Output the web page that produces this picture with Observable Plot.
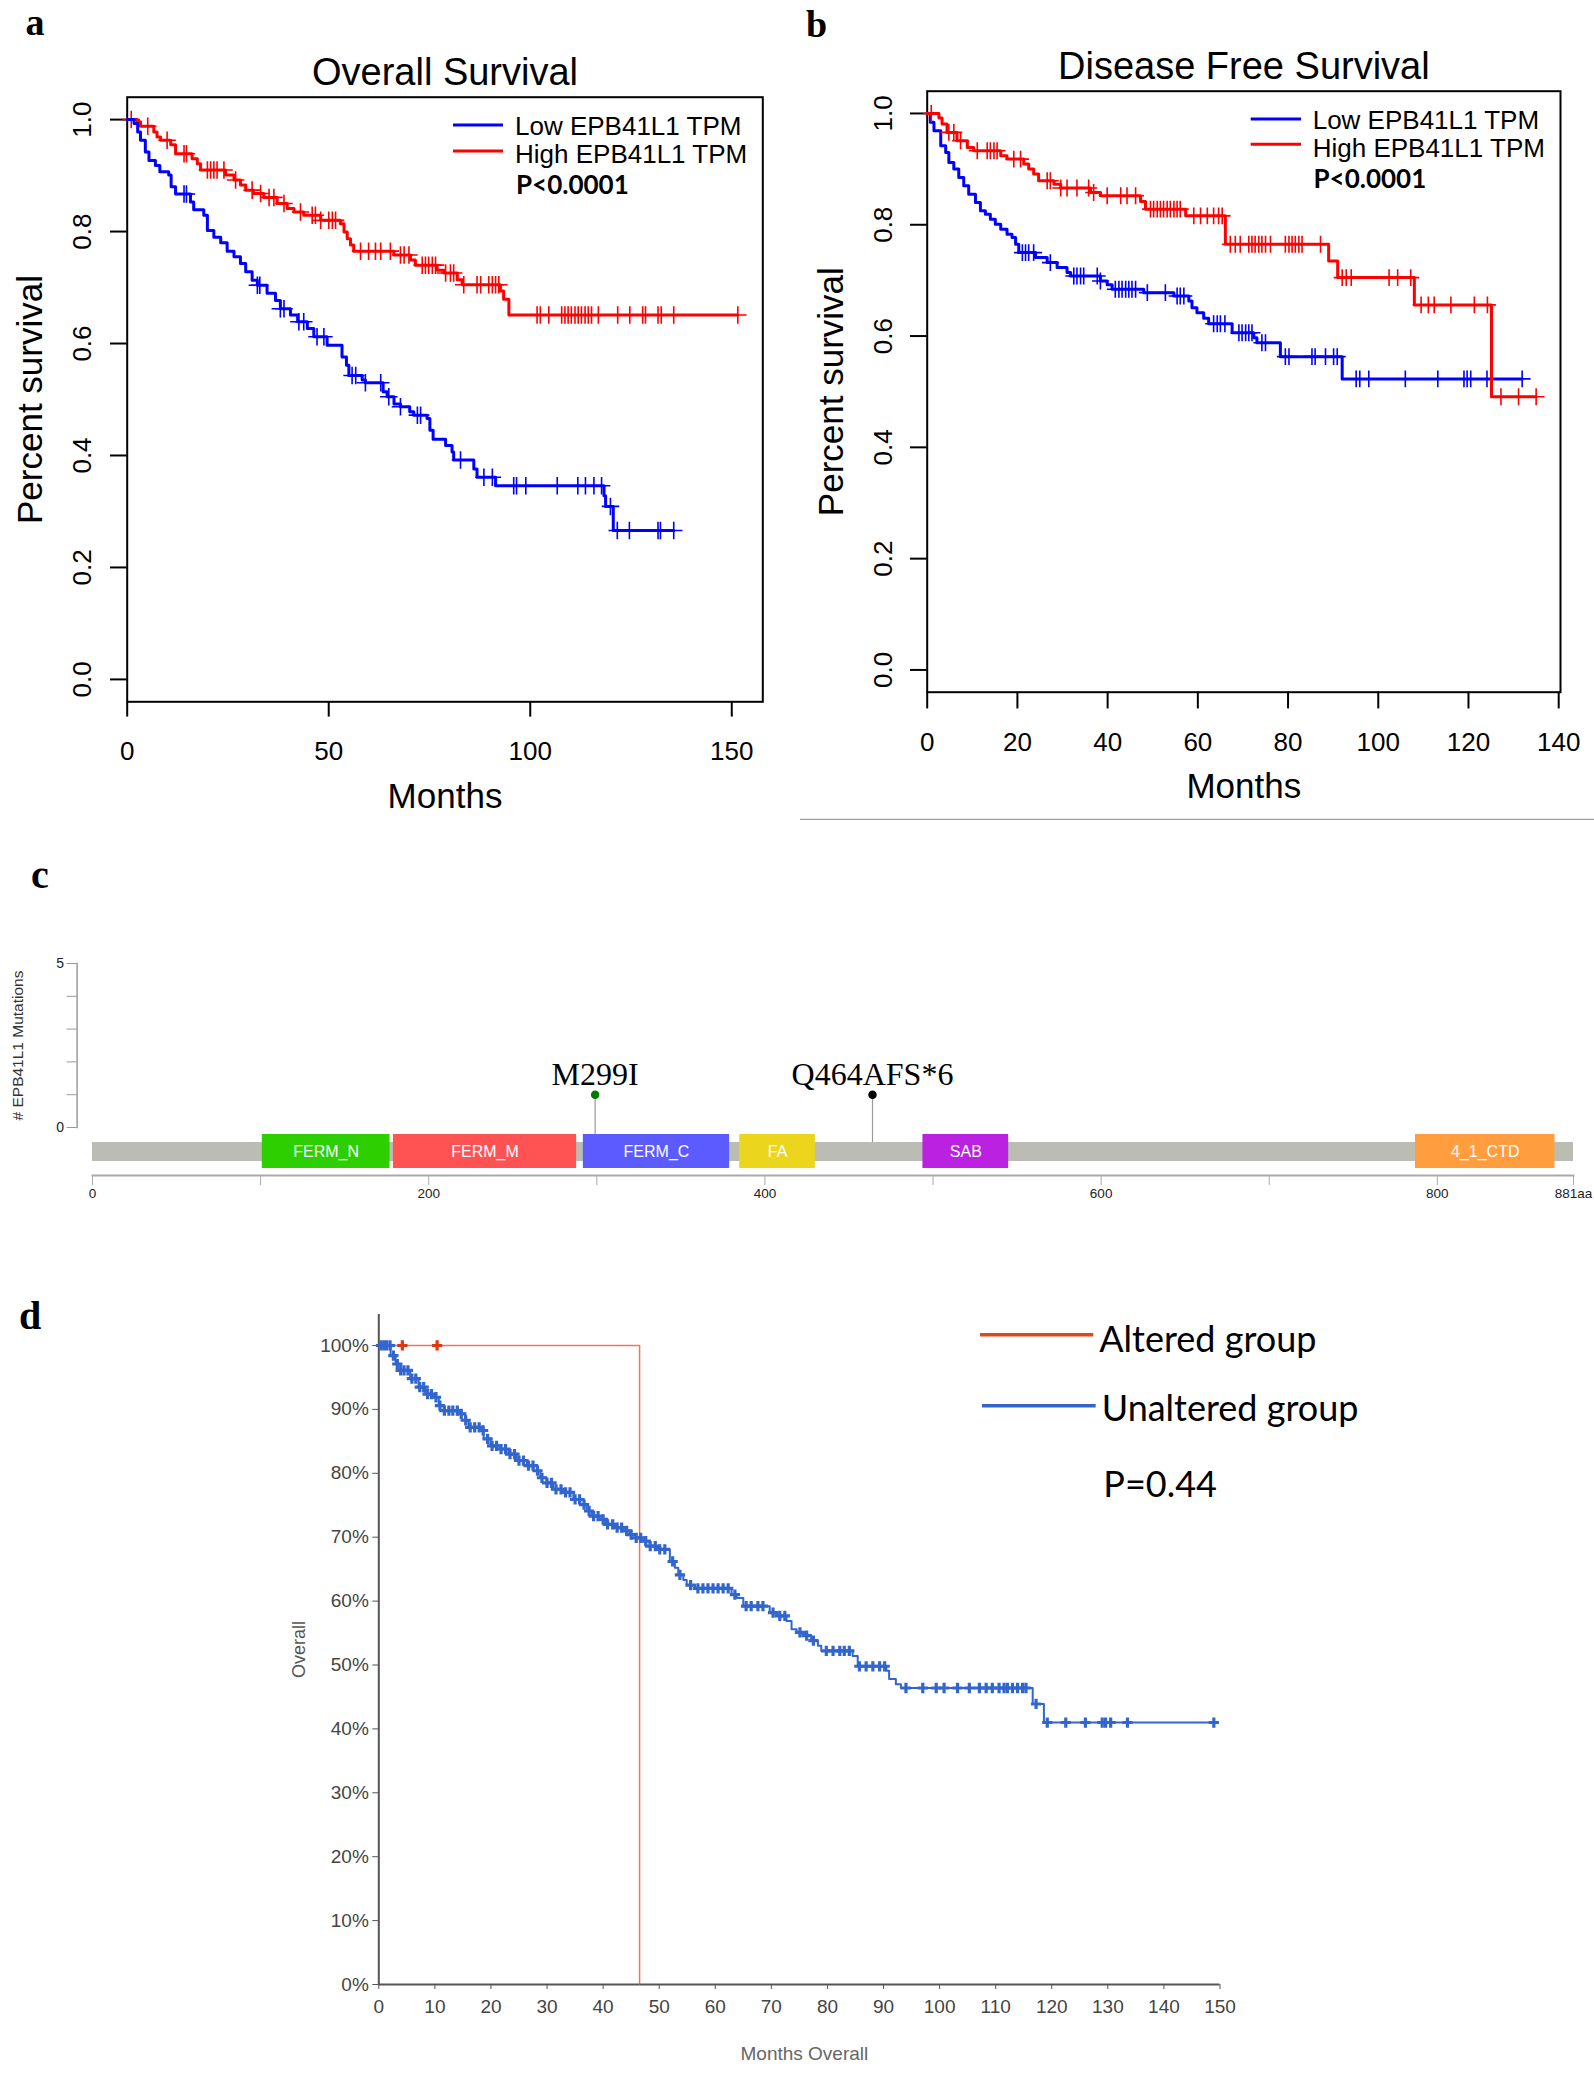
<!DOCTYPE html>
<html><head><meta charset="utf-8">
<script src="https://cdn.jsdelivr.net/npm/d3@7"></script>
<script src="https://cdn.jsdelivr.net/npm/@observablehq/plot@0.6"></script>
<style>
body{margin:0;background:#fff;}
#page{position:relative;width:1594px;height:2078px;overflow:hidden;background:#fff;}
</style></head><body><div id="page"></div>
<script>
// ---------------- DATA ----------------
// Panel a: Overall Survival (months, survival fraction) step points
const osLow = [[0,1],[1.7,.993],[2.6,.978],[3.3,.963],[4.5,.942],[5.4,.927],[7.0,.918],[8.1,.907],[10.3,.901],[10.9,.880],[12.0,.867],[15.7,.853],[16.5,.839],[19.0,.829],[19.9,.802],[21.5,.790],[23.2,.780],[24.8,.765],[26.5,.755],[28.1,.743],[29.4,.728],[31.0,.713],[32.3,.704],[34.7,.690],[36.8,.677],[38.0,.662],[40.5,.651],[42.3,.639],[44.7,.627],[46.3,.612],[49.6,.597],[53.3,.576],[54.4,.561],[55.0,.543],[58.3,.535],[59.1,.530],[63.5,.514],[64.5,.505],[66.2,.492],[67.8,.487],[70.1,.478],[71.1,.472],[74.4,.466],[75.1,.445],[75.9,.429],[79.0,.418],[80.6,.406],[81.0,.392],[86.0,.376],[86.8,.361],[91.4,.346],[118.3,.328],[118.7,.309],[120.6,.266],[135.6,.266]];
const osLowCensor = [14.1,14.7,32.3,32.9,38.0,38.9,42.6,43.8,47.1,48.8,55.8,56.7,59.1,62.9,64.9,67.8,72.0,72.8,82.7,88.5,90.6,95.9,96.6,98.9,106.7,111.8,113.7,115.8,117.7,119.9,121.6,124.6,131.7,132.3,135.6];
const osHigh = [[0,1],[2.5,.996],[3.3,.988],[6.6,.978],[7.4,.969],[8.3,.963],[10.8,.955],[12.0,.939],[16.1,.930],[17.4,.921],[18.2,.910],[24.4,.901],[26.5,.892],[28.1,.883],[29.4,.874],[31.3,.868],[33.9,.861],[37.2,.850],[39.7,.841],[41.4,.835],[43.8,.829],[48.0,.820],[52.9,.814],[53.8,.799],[54.6,.787],[55.4,.776],[56.2,.765],[66.2,.758],[70.3,.749],[71.5,.740],[76.9,.731],[78.6,.726],[81.9,.714],[83.1,.705],[92.6,.694],[93.4,.679],[94.7,.651],[151.5,.651]];
const osHighCensor = [1.0,5.1,9.9,14.1,14.7,19.9,20.7,21.5,22.3,24.0,26.9,31.0,33.1,35.2,36.4,38.9,43.0,45.9,46.7,48.0,50.0,50.9,51.7,57.9,59.9,61.6,62.9,65.3,67.8,68.7,69.9,73.2,74.0,74.8,75.7,76.5,79.0,80.2,81.0,83.5,86.8,87.7,89.7,90.6,91.4,92.2,101.7,102.5,104.6,107.8,108.6,109.4,110.2,111.1,111.9,112.7,113.6,114.4,115.2,116.9,121.7,124.7,127.9,128.6,131.7,132.5,135.6,151.5];

// Panel b: Disease Free Survival
const dfsLow = [[0,1],[0.7,.984],[1.5,.969],[3.0,.942],[4.1,.930],[4.8,.912],[5.9,.900],[7.0,.885],[8.1,.870],[9.2,.855],[10.7,.840],[11.8,.825],[12.9,.819],[14.0,.810],[15.1,.801],[16.3,.792],[17.7,.783],[18.8,.777],[19.6,.765],[20.3,.750],[24.0,.741],[26.6,.732],[28.8,.723],[31.0,.714],[31.8,.708],[38.4,.699],[39.9,.692],[41.0,.684],[48.0,.678],[54.7,.672],[58.0,.663],[58.7,.651],[59.8,.642],[61.3,.632],[62.4,.622],[67.6,.606],[72.4,.597],[73.1,.588],[78.3,.563],[92.0,.523],[131.9,.523]];
const dfsLowCensor = [21.1,21.8,22.5,23.6,27.3,32.5,33.2,34.0,34.7,37.7,38.4,41.7,42.5,43.2,44.0,44.7,45.4,46.2,48.8,52.8,55.4,56.1,56.9,63.5,64.3,65.0,66.0,69.1,69.8,70.6,71.3,72.0,74.2,75.0,79.4,80.2,85.3,86.0,88.3,90.1,90.9,95.1,95.9,97.9,106.0,113.2,119.0,119.7,120.5,124.1,131.9];
const dfsHigh = [[0,1],[2.6,.992],[3.3,.981],[4.4,.966],[6.6,.951],[8.9,.939],[10.3,.933],[16.3,.924],[17.7,.918],[21.4,.909],[22.5,.900],[23.6,.891],[24.7,.879],[28.1,.873],[29.6,.866],[36.2,.858],[38.4,.852],[47.3,.842],[48.4,.828],[57.3,.816],[66.1,.765],[89.0,.735],[91.0,.705],[108.0,.656],[125.1,.491],[135.0,.491]];
const dfsHighCensor = [0.9,4.8,5.9,7.4,11.1,13.3,14.0,14.8,15.5,19.2,20.7,26.6,27.3,29.6,31.0,33.2,35.8,36.9,39.9,42.9,44.3,46.2,49.5,50.2,51.0,51.7,52.4,53.2,53.9,54.7,55.4,56.1,59.1,60.6,62.1,63.5,64.6,65.4,67.2,68.3,69.4,71.3,72.0,72.7,73.5,74.2,75.0,76.1,79.4,80.2,80.9,81.6,82.4,83.1,87.2,92.0,92.9,94.0,102.4,104.3,107.2,109.5,111.1,112.4,116.1,121.3,124.2,127.2,131.1,135.0];

const kmYTicks = [0, 0.2, 0.4, 0.6, 0.8, 1.0];
const osXTicks = [0, 50, 100, 150];
const dfsXTicks = [0, 20, 40, 60, 80, 100, 120, 140];

// Panel c: protein domains and mutations
const proteinLength = 881;
const domainNames = ["FERM_N", "FERM_M", "FERM_C", "FA", "SAB", "4_1_CTD"];
const domainStart = [101, 179, 292, 385, 494, 787];
const domainEnd = [177, 288, 379, 430, 545, 870];
const domainColors = ["#2dcf00", "#ff5353", "#5b5bff", "#ebd61d", "#ba21e0", "#ff9d3f"];
const mutLabels = ["M299I", "Q464AFS*6"];
const mutPos = [299, 464];
const mutCount = [1, 1];
const mutColors = ["#007a00", "#000000"];
const aaTicks = [0, 100, 200, 300, 400, 500, 600, 700, 800, 881];
const aaTickLabels = ["0", "", "200", "", "400", "", "600", "", "800", "881aa"];
const mutYTicks = [0, 1, 2, 3, 4, 5];

// Panel d: cBioPortal overall survival (months, percent)
const unaltered = [[0,100],[2.1,98.4],[3.0,97.1],[3.9,96.1],[5.6,94.8],[7.1,93.5],[8.3,92.4],[9.8,91.9],[10.7,90.6],[11.6,89.8],[14.2,89.3],[15.4,88.3],[16.0,87.2],[18.1,86.7],[18.7,85.4],[19.9,84.3],[21.7,83.8],[23.1,83.0],[24.6,82.0],[26.4,81.2],[27.6,80.4],[28.8,79.3],[29.9,78.5],[31.1,77.5],[32.9,77.0],[34.7,75.9],[35.9,75.1],[37.1,74.1],[38.0,73.3],[39.2,72.8],[40.4,72.0],[42.1,71.5],[43.6,71.0],[44.8,70.4],[45.9,69.9],[47.1,69.4],[48.3,68.6],[49.8,68.1],[51.9,66.2],[52.8,65.2],[53.4,64.1],[54.3,63.3],[54.9,62.5],[56.4,62.0],[62.9,61.0],[63.8,60.5],[65.0,59.2],[69.7,58.2],[70.9,57.7],[72.7,56.9],[73.6,55.6],[74.5,55.1],[76.0,54.6],[77.1,53.8],[78.3,53.0],[78.9,52.2],[84.5,51.4],[85.4,49.8],[90.5,49.1],[91.0,47.8],[92.2,47.0],[93.1,46.4],[116.6,43.9],[118.6,41.0],[148.9,41.0]];
const unalteredCensor = [0.4,0.9,1.4,2.0,2.6,3.3,3.9,4.5,5.2,5.9,6.6,7.3,8.0,8.7,9.4,10.2,10.9,11.7,12.5,13.2,14.0,14.7,15.5,16.3,17.1,17.9,18.6,19.4,20.2,21.0,21.8,22.6,23.4,24.2,25.0,25.8,26.7,27.5,28.3,29.1,30.0,30.8,31.6,32.5,33.3,34.1,35.0,35.8,36.6,37.5,38.3,39.1,40.0,40.8,41.7,42.5,43.3,44.2,45.0,45.9,46.7,47.6,48.4,49.3,50.1,51.0,52.4,53.7,55.6,56.9,57.8,58.7,59.6,60.5,61.4,62.3,63.5,65.5,66.4,67.6,68.5,70.3,71.5,72.4,75.1,76.3,77.5,79.8,81.0,82.2,83.0,83.9,85.7,86.9,88.1,89.3,90.2,94.0,97.0,99.4,100.8,103.2,105.3,107.1,108.3,109.4,110.6,111.5,112.1,113.0,113.9,114.8,115.4,117.2,119.2,122.5,126.0,129.0,129.6,130.5,133.5,148.9];
const altered = [[0,100],[46.5,0]];
const alteredCensor = [4.2, 10.4];
const pctTicks = [0,10,20,30,40,50,60,70,80,90,100];
const monthTicksD = [0,10,20,30,40,50,60,70,80,90,100,110,120,130,140,150];

// ---------------- HELPERS ----------------
const page = document.getElementById("page");
function place(svg, left, top) {
  svg.style.position = "absolute";
  svg.style.left = left + "px";
  svg.style.top = top + "px";
  svg.style.maxWidth = "none";
  page.appendChild(svg);
}
function survAt(steps, t) {
  let s = steps[0][1];
  for (const [tt, v] of steps) { if (tt <= t + 1e-9) s = v; else break; }
  return s;
}
const SANS = "'Liberation Sans', Arial, sans-serif";

function makeKM(c) {
  const marks = [
    Plot.frame({stroke: "#000", strokeWidth: 2}),
    Plot.axisX({ticks: c.xTicks, tickSize: c.tsx, tickPadding: c.tpx, fontSize: 26, strokeWidth: 2, label: null}),
    Plot.axisY({ticks: kmYTicks, tickFormat: d3.format(".1f"), tickSize: c.tsy, tickPadding: c.tpy, tickRotate: -90, fontSize: 26, strokeWidth: 2, label: null}),
    Plot.text(["Months"], {frameAnchor: "bottom", dy: c.xLabDy, lineAnchor: "bottom", textAnchor: "middle", fontSize: 35}),
    Plot.text(["Percent survival"], {frameAnchor: "left", dx: c.yLabDx, rotate: -90, lineAnchor: "top", textAnchor: "middle", fontSize: 35}),
    Plot.text([c.title], {frameAnchor: "top", dy: c.titleDy, lineAnchor: "bottom", textAnchor: "middle", fontSize: 38})
  ];
  for (const s of c.series) {
    marks.push(Plot.line(s.steps, {x: d => d[0], y: d => d[1], curve: "step-after", stroke: s.color, strokeWidth: 3}));
    marks.push(Plot.dot(s.cens, {x: d => d, y: d => survAt(s.steps, d), symbol: "plus", r: c.r, stroke: s.color, strokeWidth: 1.6}));
  }
  return Plot.plot({
    width: c.width, height: c.height,
    marginLeft: c.ml, marginRight: c.mr, marginTop: c.mt, marginBottom: c.mb,
    style: {background: "transparent", fontFamily: SANS, color: "#000", overflow: "visible"},
    x: {domain: c.xDomain},
    y: {domain: [-0.04, 1.04]},
    marks
  });
}

// ---------------- PANEL a ----------------
place(makeKM({
  width: 800, height: 830, ml: 126.7, mr: 37.7, mt: 96.7, mb: 128.7,
  xDomain: [0, 157.7], xTicks: osXTicks, tsx: 15.3, tpx: 24, tsy: 16.7, tpy: 20,
  xLabDy: 106.2, yLabDx: -109.7, title: "Overall Survival", titleDy: -12.7, r: 5.7,
  series: [{steps: osHigh, cens: osHighCensor, color: "#ff0000"}, {steps: osLow, cens: osLowCensor, color: "#0000ff"}]
}), 0, 0);

// ---------------- PANEL b ----------------
place(makeKM({
  width: 794, height: 830, ml: 126.7, mr: 34, mt: 90.7, mb: 138.3,
  xDomain: [0, 140.4], xTicks: dfsXTicks, tsx: 16.7, tpx: 24, tsy: 16.7, tpy: 19,
  xLabDy: 105.8, yLabDx: -109.4, title: "Disease Free Survival", titleDy: -12.2, r: 5.5,
  series: [{steps: dfsLow, cens: dfsLowCensor, color: "#0000ff"}, {steps: dfsHigh, cens: dfsHighCensor, color: "#ff0000"}]
}), 800, 0);

// ---------------- PANEL c ----------------
const muts = mutLabels.map((l, i) => ({label: l, pos: mutPos[i], count: mutCount[i], color: mutColors[i]}));
const doms = domainNames.map((n, i) => ({name: n, start: domainStart[i], end: domainEnd[i], color: domainColors[i], track: "EPB41L1"}));

place(Plot.plot({
  width: 1594, height: 280, marginLeft: 76.6, marginRight: 21, marginTop: 23, marginBottom: 93,
  style: {background: "transparent", fontFamily: SANS, overflow: "visible"},
  x: {domain: [0, proteinLength], range: [92, 1573], axis: null},
  y: {domain: [0, 5]},
  marks: [
    Plot.frame({anchor: "left", stroke: "#9a9a9a", strokeWidth: 1.5}),
    Plot.axisY({ticks: mutYTicks, tickFormat: d => (d === 0 || d === 5) ? String(d) : "", tickSize: 10, tickPadding: 3, fontSize: 14, stroke: "#9a9a9a", fill: "#222", label: null}),
    Plot.text(["# EPB41L1 Mutations"], {frameAnchor: "left", dx: -58.6, rotate: -90, lineAnchor: "middle", textAnchor: "middle", fontSize: 15.5, fill: "#333"}),
    Plot.ruleX(muts, {x: "pos", y1: "count", y2: 0, stroke: "#9a9a9a", strokeWidth: 1.2, insetBottom: -15}),
    Plot.dot(muts, {x: "pos", y: "count", r: 3.5, fill: "color", stroke: "color"}),
    Plot.text(muts, {x: "pos", y: "count", text: "label", dy: -10, lineAnchor: "bottom", fontFamily: "'Liberation Serif', 'Times New Roman', serif", fontSize: 32, fill: "#000"})
  ]
}), 0, 940);

place(Plot.plot({
  width: 1594, height: 100, marginLeft: 92, marginRight: 21, marginTop: 14, marginBottom: 45,
  style: {background: "transparent", fontFamily: SANS, overflow: "visible"},
  x: {domain: [0, proteinLength]},
  y: {domain: ["EPB41L1"], axis: null, padding: 0},
  marks: [
    Plot.barX([{track: "EPB41L1", len: proteinLength}], {x1: 0, x2: "len", y: "track", fill: "#bbbdb4", insetTop: 8, insetBottom: 14}),
    Plot.barX(doms, {x1: "start", x2: "end", y: "track", fill: "color", insetBottom: 7}),
    Plot.text(doms, {x: d => (d.start + d.end) / 2, y: "track", text: "name", fill: "#fff", fontSize: 16, dy: -3.5}),
    Plot.frame({anchor: "bottom", stroke: "#aaaaaa", strokeWidth: 2}),
    Plot.axisX({ticks: aaTicks, tickFormat: (d, i) => aaTickLabels[aaTicks.indexOf(d)], tickSize: 10, tickPadding: 3, fontSize: 13.5, stroke: "#aaaaaa", fill: "#222", label: null})
  ]
}), 0, 1120);

// ---------------- PANEL d ----------------
place(Plot.plot({
  width: 1100, height: 788, marginLeft: 178.3, marginRight: 80.5, marginTop: 24, marginBottom: 94,
  style: {background: "transparent", fontFamily: SANS, overflow: "visible"},
  x: {domain: [0, 150]},
  y: {domain: [0, 104.85]},
  marks: [
    Plot.ruleX([0], {stroke: "#555", strokeWidth: 2}),
    Plot.ruleY([0], {stroke: "#555", strokeWidth: 2}),
    Plot.axisY({ticks: pctTicks, tickFormat: d => d + "%", tickSize: 6, tickPadding: 4, fontSize: 19, stroke: "#555", fill: "#444", label: null}),
    Plot.axisX({ticks: monthTicksD, tickSize: 5, tickPadding: 10, fontSize: 19, stroke: "#555", fill: "#444", label: null}),
    Plot.text(["Overall"], {frameAnchor: "left", dx: -79.3, rotate: -90, lineAnchor: "middle", textAnchor: "middle", fontSize: 18, fill: "#555"}),
    Plot.text(["Months Overall"], {frameAnchor: "bottom", dx: 5, dy: 69, lineAnchor: "middle", textAnchor: "middle", fontSize: 19, fill: "#666"}),
    Plot.line(altered, {x: d => d[0], y: d => d[1], curve: "step-after", stroke: "#e2573a", strokeOpacity: 0.8, strokeWidth: 1.5}),
    Plot.line(unaltered, {x: d => d[0], y: d => d[1], curve: "step-after", stroke: "#3366cc", strokeWidth: 2}),
    Plot.dot(unalteredCensor, {x: d => d, y: d => survAt(unaltered, d), symbol: "plus", r: 3.4, stroke: "#3366cc", strokeWidth: 3.2}),
    Plot.dot(alteredCensor, {x: d => d, y: d => survAt(altered, d), symbol: "plus", r: 3.4, stroke: "#dc3912", strokeWidth: 3.2})
  ]
}), 200, 1290);

// ---------------- OVERLAY: panel letters, legends, separator ----------------
const ov = d3.select(page).append("svg")
  .attr("width", 1594).attr("height", 2078)
  .style("position", "absolute").style("left", "0px").style("top", "0px");
function label(x, y, s, size, opts = {}) {
  return ov.append("text").attr("x", x).attr("y", y).text(s)
    .attr("font-family", opts.family || SANS).attr("font-size", size)
    .attr("font-weight", opts.weight || "normal").attr("fill", opts.fill || "#000")
    .attr("text-anchor", opts.anchor || "start");
}
function seg(x1, x2, y, color, w) {
  ov.append("line").attr("x1", x1).attr("x2", x2).attr("y1", y).attr("y2", y).attr("stroke", color).attr("stroke-width", w);
}
const SERIF = "'Liberation Serif', 'Times New Roman', serif";
const LATO = "Lato, 'Open Sans', sans-serif";
label(25.6, 35, "a", 38, {family: SERIF, weight: "bold"});
label(806, 37, "b", 38, {family: SERIF, weight: "bold"});
label(31, 888, "c", 40, {family: SERIF, weight: "bold"});
label(19, 1328.6, "d", 40, {family: SERIF, weight: "bold"});

// legend a
seg(453, 503, 125, "#0000ff", 3); seg(453, 503, 151, "#ff0000", 3);
label(515, 135, "Low EPB41L1 TPM", 26);
label(515, 163, "High EPB41L1 TPM", 26);
label(516, 194, "P<0.0001", 26, {family: LATO, weight: "bold"});
// legend b
seg(1250.7, 1301, 119, "#0000ff", 3); seg(1250.7, 1301, 144.3, "#ff0000", 3);
label(1312.7, 129, "Low EPB41L1 TPM", 26);
label(1312.7, 156.7, "High EPB41L1 TPM", 26);
label(1313.5, 188.3, "P<0.0001", 26, {family: LATO, weight: "bold"});
// separator under b
seg(800, 1594, 819.3, "#a0a0a0", 1.2);
// legend d
seg(980, 1093.3, 1334.7, "#dc4a20", 3.5);
label(1099.3, 1351.7, "Altered group", 36, {family: LATO});
seg(982, 1095.7, 1405.7, "#3366cc", 3.5);
label(1101.7, 1420.7, "Unaltered group", 36, {family: LATO});
label(1103.3, 1497.3, "P=0.44", 36, {family: LATO});
</script></body></html>
